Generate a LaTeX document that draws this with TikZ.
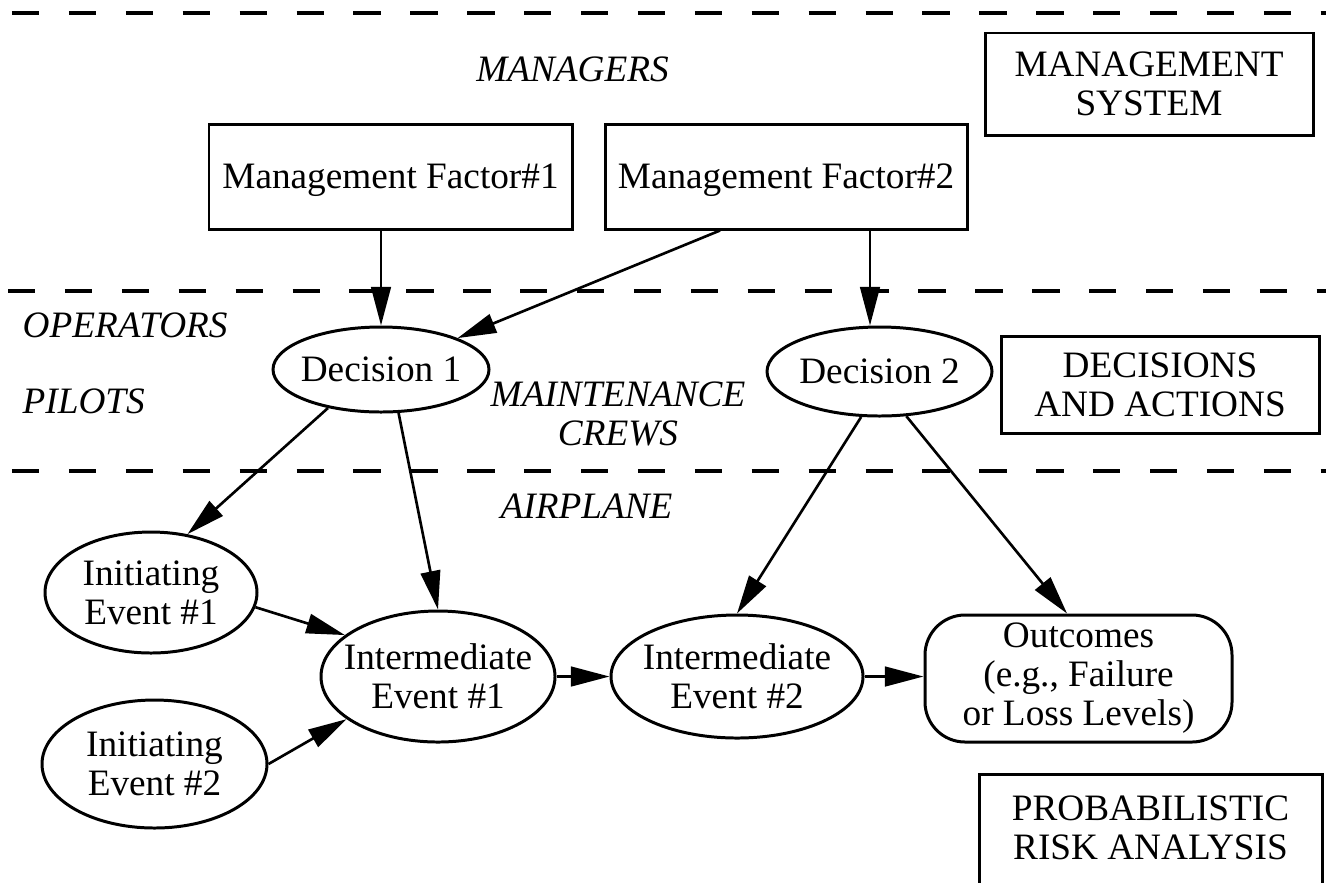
\documentclass[tikz,border=0pt]{standalone}
\usepackage{fontspec}
\setmainfont{Liberation Serif}
\usetikzlibrary{arrows.meta, shapes.geometric}

\newcommand{\figfont}{\fontsize{10.6}{11.1}\selectfont}

\begin{document}
\begin{tikzpicture}[
    font=\figfont,
    layer/.style={line width=1.05pt, dash pattern=on 0.273cm off 0.296cm},
    factorbox/.style={draw, line width=0.85pt, inner sep=0pt, align=center},
    event/.style={ellipse, draw, line width=0.85pt, inner xsep=-20pt, inner ysep=0pt, align=center},
    levellabel/.style={font=\figfont\itshape, inner sep=0pt, align=center},
    link/.style={-{Triangle[length=11pt, width=5.6pt]}, line width=0.75pt}
  ]
			\useasboundingbox (0,0) rectangle (13.26,8.82);
			\clip (0,0) rectangle (13.26,8.82);

			% Layer boundaries
			\draw[layer] (0.12,8.693) -- (13.4,8.693);
			\draw[layer] (0.08,5.913) -- (13.4,5.913);
			\draw[layer] (0.12,4.11) -- (13.4,4.11);

			% Who acts in each layer
			\node[levellabel] (managers) at (5.725,8.13) {MANAGERS};
			\node[levellabel, anchor=west] (operators) at (0.22,5.565) {OPERATORS};
			\node[levellabel, anchor=west] (pilots) at (0.22,4.805) {PILOTS};
			\node[levellabel] (crews) at (6.18,4.68) {MAINTENANCE\\CREWS};
			\node[levellabel] (airplane) at (5.865,3.755) {AIRPLANE};

			% Management system
			\node[factorbox, text depth=0pt, minimum width=3.63cm, minimum height=1.05cm] (mf1) at (3.905,7.055) {Management Factor\#1};
			\node[factorbox, text depth=0pt, minimum width=3.62cm, minimum height=1.05cm] (mf2) at (7.86,7.055) {Management Factor\#2};
			\node[factorbox, minimum width=3.28cm, minimum height=1.02cm] (mgmt) at (11.49,7.98) {MANAGEMENT\\SYSTEM};

			% Decisions and actions
			\node[event, minimum width=2.16cm, minimum height=0.85cm] (d1) at (3.81,5.125) {Decision 1};
			\node[event, minimum width=2.25cm, minimum height=0.89cm] (d2) at (8.795,5.105) {Decision 2};
			\node[factorbox, minimum width=3.18cm, minimum height=0.97cm] (acts) at (11.60,4.975) {DECISIONS\\AND ACTIONS};

			% Probabilistic risk analysis
			\node[event, minimum width=2.12cm, minimum height=1.21cm] (ie1) at (1.51,2.895) {Initiating\\Event \#1};
			\node[event, minimum width=2.25cm, minimum height=1.28cm] (ie2) at (1.545,1.18) {Initiating\\Event \#2};
			\node[event, minimum width=2.34cm, minimum height=1.31cm] (im1) at (4.38,2.055) {Intermediate\\Event \#1};
			\node[event, minimum width=2.52cm, minimum height=1.23cm] (im2) at (7.37,2.055) {Intermediate\\Event \#2};
			\node[factorbox, rounded corners=0.4cm, minimum width=3.07cm, minimum height=1.27cm] (out) at (10.785,2.035) {Outcomes\\(e.g., Failure\\or Loss Levels)};
			\node[factorbox, minimum width=3.43cm, inner ysep=0.21cm, text depth=0.25cm, anchor=north] (pra) at (11.505,1.09) {PROBABILISTIC\\RISK ANALYSIS};

			% Influences
			\coordinate (mf2left) at ([xshift=-0.66cm]mf2.south);
			\coordinate (mf2right) at ([xshift=0.84cm]mf2.south);
			\draw[link] (mf1.south -| d1.north) -- (d1.north);
			\draw[link] (mf2left) -- (d1);
			\draw[link] (mf2right) -- (mf2right |- d2.north);
			\draw[link] (d1.216) -- (ie1.58);
			\draw[link] (d1.292) -- (im1.north);
			\draw[link] (ie1.352) -- (im1.156);
			\draw[link] (ie2.east) -- (im1.205);
			\draw[link] (im1.east) -- (im2.west);
			\draw[link] (d2.248) -- (im2.north);
			\draw[link] (d2.301) -- (out.100);
			\draw[link] (im2.east) -- (im2.east -| out.west);
		\end{tikzpicture}
\end{document}
